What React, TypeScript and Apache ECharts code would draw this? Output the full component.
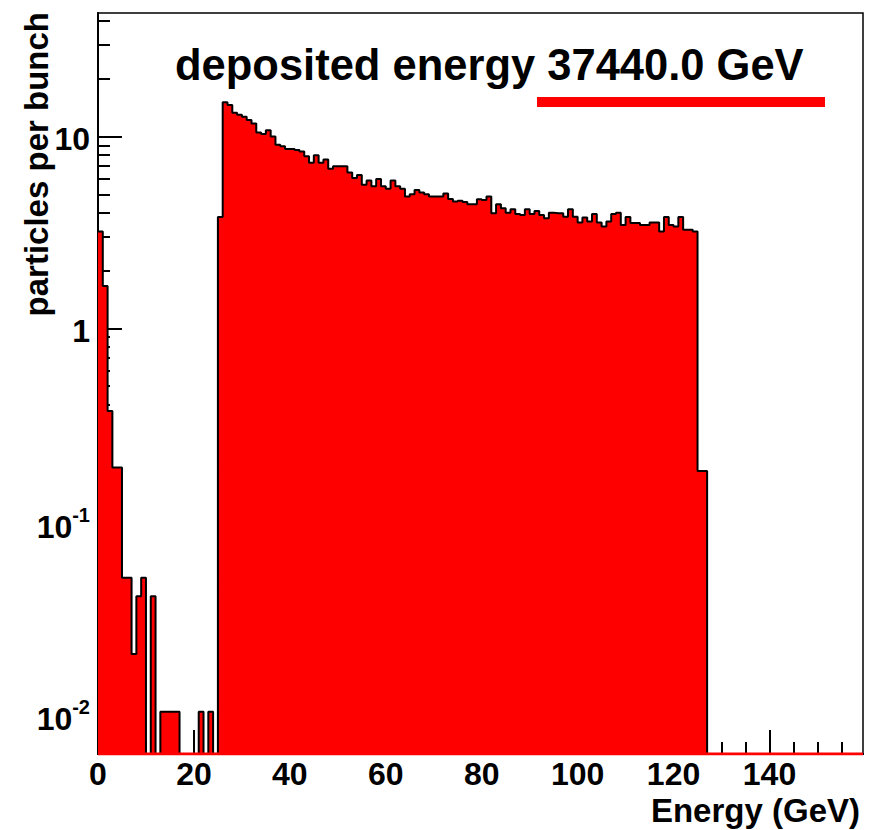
import React, { useEffect, useRef } from "react";
import * as echarts from "echarts";

// ---------- data ----------
const TITLE = "deposited energy 37440.0 GeV";
const X_TITLE = "Energy (GeV)";
const Y_TITLE = "particles per bunch";

const BIN_WIDTH = 1; // GeV
const N_BINS = 160;
const X_MIN = 0;
const X_MAX = 159.5;
const Y_MIN = 0.006016;
const Y_MAX = 44.1;

// bins 0..25
const lowCounts = [
  3.2, 1.66, 0.37, 0.188, 0.188, 0.05, 0.05, 0.02, 0.04, 0.05,
  0, 0.04, 0, 0.01, 0.01, 0.01, 0.01, 0, 0, 0,
  0, 0.01, 0, 0.01, 0, 3.8,
];
// bins 26..124
const mainCounts = [
  15.1, 14.6, 13.3, 13.0, 12.7, 12.2, 11.7, 10.5, 10.3, 10.8,
  10.0, 9.05, 8.9, 8.6, 8.6, 8.5, 8.35,
  7.9, 7.3, 8.0, 7.3, 7.6, 6.8, 7.0, 7.0, 7.0, 6.5,
  6.07, 6.3, 5.6, 5.9, 5.5, 6.0, 5.5, 5.34, 5.9, 5.5,
  5.34, 4.87, 5.0, 5.27, 5.1, 5.0, 4.87, 4.87, 4.87, 5.05,
  4.72, 4.58,
  4.63, 4.55, 4.44, 4.44, 4.71, 4.67, 4.86, 3.98, 4.44, 4.23,
  4.01, 4.18, 3.94, 3.9, 4.18, 3.94, 4.09, 3.9, 3.75, 4.01,
  3.98, 3.98, 3.82, 4.18, 3.82, 3.56, 3.78, 3.6, 3.94, 3.56,
  3.39, 3.6, 3.94, 4.01, 3.46, 3.8, 3.54, 3.54, 3.46, 3.46,
  3.56, 3.56, 3.2, 3.8, 3.46, 3.39, 3.8, 3.26, 3.26, 3.2,
];
// bins 125..126
const tailCounts = [0.18, 0.18];

const X_MAJOR = [0, 20, 40, 60, 80, 100, 120, 140];
const X_MINOR_STEP = 5;
const Y_DECADES = [0.01, 0.1, 1, 10];

const FONT = "'Liberation Sans', Arial, Helvetica, sans-serif";

export default function App() {
  const ref = useRef<HTMLDivElement>(null);

  useEffect(() => {
    if (!ref.current) return;
    const chart = echarts.init(ref.current, undefined, { renderer: "svg" });

    const counts: number[] = [...lowCounts, ...mainCounts, ...tailCounts];
    while (counts.length < N_BINS) counts.push(0);
    const data: number[][] = counts.map((c, i) => [X_MIN + i * BIN_WIDTH, c > 0 ? c : Y_MIN]);
    data.push([X_MIN + N_BINS * BIN_WIDTH, Y_MIN]);

    const xMinor: number[] = [];
    for (let v = X_MIN; v <= X_MAX; v += X_MINOR_STEP) {
      if (!X_MAJOR.includes(v)) xMinor.push(v);
    }
    const yMinor: number[] = [];
    [0.001, 0.01, 0.1, 1, 10].forEach((d) => {
      for (let k = 2; k <= 9; k++) {
        const v = +(d * k).toPrecision(3);
        if (v > Y_MIN && v < Y_MAX) yMinor.push(v);
      }
    });

    const bold = { fontFamily: FONT, fontWeight: "bold" as const, color: "#000" };

    chart.setOption({
      animation: false,
      backgroundColor: "#ffffff",
      grid: {
        left: 98,
        right: 19,
        top: 13,
        bottom: 76,
        show: true,
        borderColor: "#000",
        borderWidth: 1.5,
        backgroundColor: "transparent",
        containLabel: false,
      },
      xAxis: [
        {
          type: "value",
          min: X_MIN,
          max: X_MAX,
          position: "bottom",
          axisLine: { show: true, onZero: false, lineStyle: { color: "#000", width: 2 } },
          axisTick: { show: true, inside: true, length: 24, customValues: X_MAJOR, lineStyle: { color: "#000", width: 2 } },
          axisLabel: { show: true, customValues: X_MAJOR, margin: 4, fontSize: 32, ...bold },
          splitLine: { show: false },
        },
        {
          type: "value",
          min: X_MIN,
          max: X_MAX,
          position: "bottom",
          axisLine: { show: false, onZero: false },
          axisTick: { show: true, inside: true, length: 12, customValues: xMinor, lineStyle: { color: "#000", width: 2 } },
          axisLabel: { show: false },
          splitLine: { show: false },
        },
      ],
      yAxis: [
        {
          type: "log",
          logBase: 10,
          min: Y_MIN,
          max: Y_MAX,
          position: "left",
          axisLine: { show: true, onZero: false, lineStyle: { color: "#000", width: 2 } },
          axisTick: { show: true, inside: true, length: 24, customValues: Y_DECADES, lineStyle: { color: "#000", width: 2 } },
          axisLabel: {
            show: true,
            customValues: Y_DECADES,
            margin: 8,
            formatter: (v: number) => {
              const e = Math.round(Math.log10(v));
              if (e >= 0) return `{p|${Math.round(v)}}`;
              return `{b|10}{s|${e}}`;
            },
            rich: {
              p: { fontSize: 32, lineHeight: 32, padding: [5, 0, 0, 0], ...bold },
              b: { fontSize: 32, lineHeight: 32, padding: [14, 0, 0, 0], ...bold },
              s: { fontSize: 20, lineHeight: 20, padding: [8, 0, 18, 0], ...bold },
            },
          },
          splitLine: { show: false },
        },
        {
          type: "log",
          logBase: 10,
          min: Y_MIN,
          max: Y_MAX,
          position: "left",
          axisLine: { show: false, onZero: false },
          axisTick: { show: true, inside: true, length: 12, customValues: yMinor, lineStyle: { color: "#000", width: 2 } },
          axisLabel: { show: false },
          splitLine: { show: false },
        },
      ],
      series: [
        {
          type: "line",
          xAxisIndex: 0,
          yAxisIndex: 0,
          data,
          step: "end",
          showSymbol: false,
          symbol: "none",
          clip: true,
          lineStyle: { color: "#000", width: 2 },
          areaStyle: { color: "#ff0000", opacity: 1, origin: "start" },
          z: 2,
        },
        {
          // thin fill edge along the bottom, as the histogram fill leaves it
          type: "line",
          xAxisIndex: 0,
          yAxisIndex: 0,
          data: [[X_MIN, Y_MIN], [X_MAX, Y_MIN]],
          showSymbol: false,
          symbol: "none",
          clip: true,
          lineStyle: { color: "#ff0000", width: 3 },
          silent: true,
          z: 3,
        },
      ],
      graphic: [
        {
          type: "text",
          x: 175,
          y: 65,
          style: { text: TITLE, fontSize: 43.5, fontFamily: FONT, fontWeight: "bold", fill: "#000", align: "left", verticalAlign: "middle" },
        },
        {
          type: "rect",
          shape: { x: 537, y: 97, width: 288, height: 10 },
          style: { fill: "#ff0000" },
        },
        {
          type: "text",
          x: 860,
          y: 810,
          style: { text: X_TITLE, fontSize: 33, fontFamily: FONT, fontWeight: "bold", fill: "#000", align: "right", verticalAlign: "middle" },
        },
        {
          type: "text",
          x: 36,
          y: 12,
          rotation: Math.PI / 2,
          style: { text: Y_TITLE, fontSize: 33, fontFamily: FONT, fontWeight: "bold", fill: "#000", align: "right", verticalAlign: "middle" },
        },
      ],
    });

    return () => chart.dispose();
  }, []);

  return (
    <div
      ref={ref}
      style={{ position: "absolute", left: 0, top: 0, width: 882, height: 830, background: "#fff" }}
    />
  );
}
